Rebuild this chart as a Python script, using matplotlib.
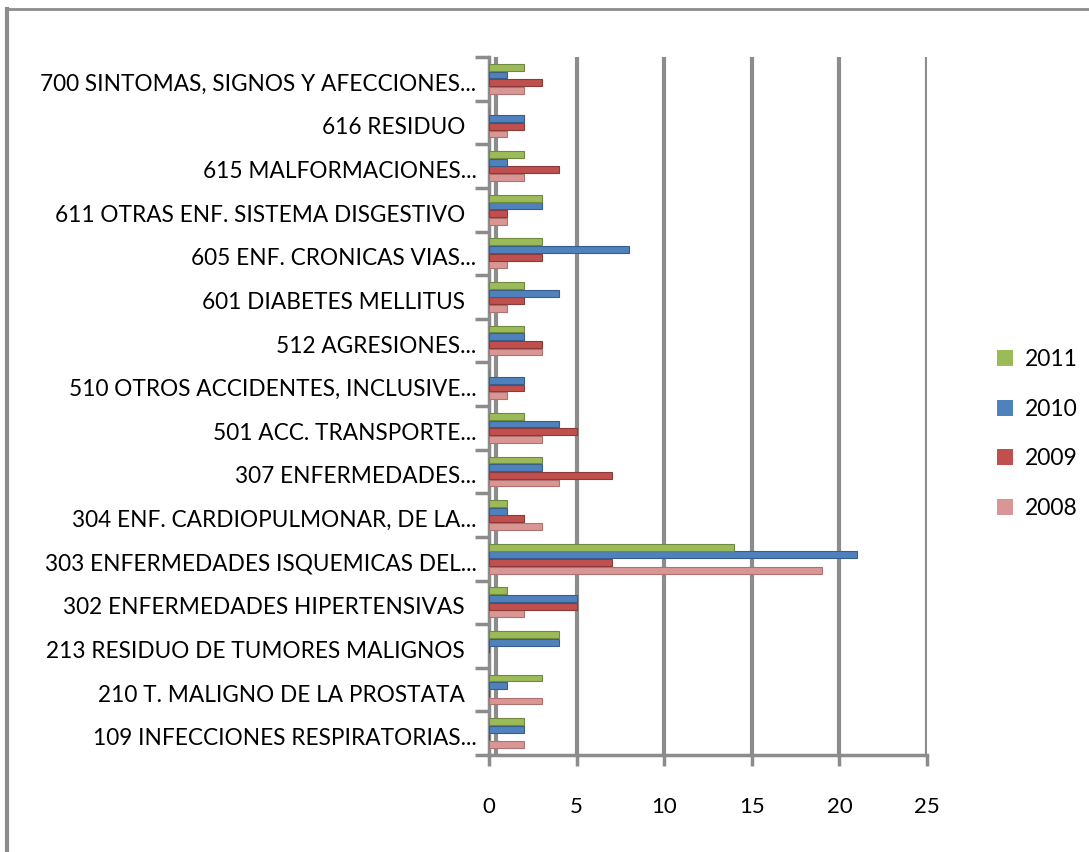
import matplotlib
matplotlib.use("Agg")
import matplotlib.pyplot as plt
import numpy as np
from matplotlib.patches import Patch
from matplotlib.lines import Line2D

categories = [
    "109 INFECCIONES RESPIRATORIAS...",
    "210 T. MALIGNO DE LA PROSTATA  ",
    "213 RESIDUO DE TUMORES MALIGNOS  ",
    "302 ENFERMEDADES HIPERTENSIVAS  ",
    "303 ENFERMEDADES ISQUEMICAS DEL...",
    "304 ENF. CARDIOPULMONAR, DE LA...",
    "307 ENFERMEDADES...",
    "501 ACC. TRANSPORTE...",
    "510 OTROS ACCIDENTES, INCLUSIVE...",
    "512 AGRESIONES...",
    "601 DIABETES MELLITUS  ",
    "605 ENF. CRONICAS VIAS...",
    "611 OTRAS ENF. SISTEMA DISGESTIVO  ",
    "615 MALFORMACIONES...",
    "616 RESIDUO  ",
    "700 SINTOMAS, SIGNOS Y AFECCIONES...",
]
v2008 = [2, 3, 0, 2, 19, 3, 4, 3, 1, 3, 1, 1, 1, 2, 1, 2]
v2009 = [0, 0, 0, 5, 7, 2, 7, 5, 2, 3, 2, 3, 1, 4, 2, 3]
v2010 = [2, 1, 4, 5, 21, 1, 3, 4, 2, 2, 4, 8, 3, 1, 2, 1]
v2011 = [2, 3, 4, 1, 14, 1, 3, 2, 0, 2, 2, 3, 3, 2, 0, 2]
series = [("2008", v2008, "#d99694", "#b07270"),
          ("2009", v2009, "#c0504d", "#8c3a38"),
          ("2010", v2010, "#4f81bd", "#385d8a"),
          ("2011", v2011, "#9bbb59", "#71893f")]
xticks = [0, 5, 10, 15, 20, 25]

plt.rcParams['font.family'] = ['Lato', 'DejaVu Sans']
fig = plt.figure(figsize=(10.89, 8.52), dpi=100)
W, H = 1089, 852
ax = fig.add_axes([489 / W, (H - 755) / H, (927 - 489) / W, (755 - 57) / H])

y = np.arange(len(categories))
slot = 0.175
bh = 0.155
for i, (name, vals, col, edge) in enumerate(series):
    off = (i - 1.5) * slot
    ax.barh(y + off, vals, height=bh, color=col, edgecolor=edge, linewidth=0.8, zorder=3)

ax.set_xlim(0, 25)
ax.set_ylim(-0.5, len(categories) - 0.5)
for xv in xticks[1:]:
    ax.axvline(xv, color="#8c8c8c", lw=3, zorder=1)
ax.axvline(0.4, color="#8c8c8c", lw=3, zorder=1)

ax.set_xticks(xticks)
ax.set_xticklabels([str(t) for t in xticks], fontsize=16)
ax.set_yticks(y - 0.08)
ax.set_yticklabels(categories, fontsize=16.3)
ax.set_yticks(np.arange(-0.5, len(categories), 1), minor=True)
ax.tick_params(axis='y', which='major', length=0, pad=9)
ax.tick_params(axis='y', which='minor', length=10, width=2.5, color="#8c8c8c")
ax.tick_params(axis='x', length=8, width=2.5, color="#8c8c8c", pad=22)
for s in ['top', 'right']:
    ax.spines[s].set_visible(False)
for s in ['left', 'bottom']:
    ax.spines[s].set_color("#8c8c8c")
    ax.spines[s].set_linewidth(2.5)

handles = [Patch(facecolor=c, edgecolor='none', label=n) for n, v, c, e in series[::-1]]
fig.legend(handles=handles, loc='center left', bbox_to_anchor=(997 / W, (H - 434) / H),
           frameon=False, fontsize=16.5, handlelength=0.7, handleheight=0.7,
           labelspacing=1.25, handletextpad=0.5, borderpad=0, borderaxespad=0)

fig.add_artist(Line2D([7 / W, 1], [(H - 9) / H, (H - 9) / H], color="#8c8c8c", lw=2))
fig.add_artist(Line2D([7 / W, 7 / W], [0, (H - 9) / H], color="#8c8c8c", lw=3))

fig.savefig("out.png", dpi=100)
